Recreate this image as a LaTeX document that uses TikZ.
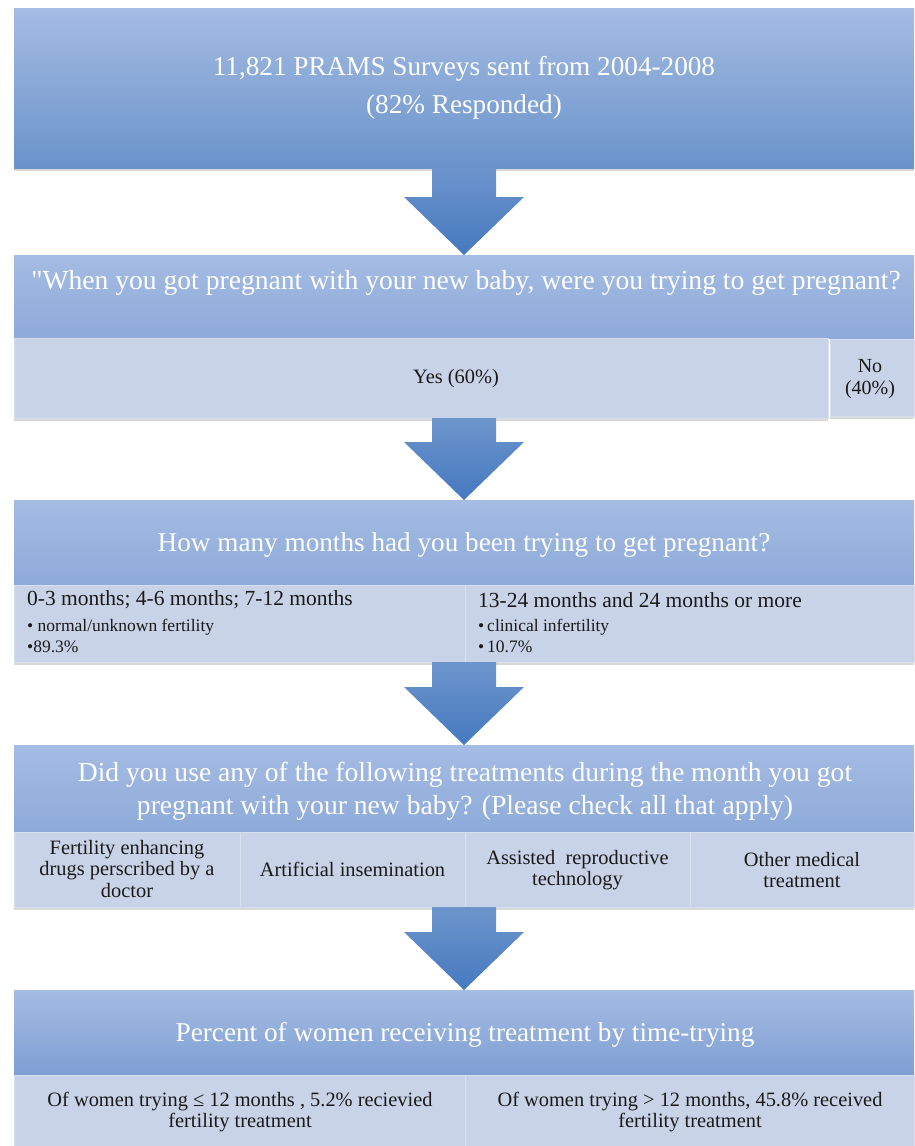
\documentclass[tikz,border=0pt]{standalone}
\usepackage{fontspec}
\setmainfont{Liberation Serif}
\usetikzlibrary{calc,shadows}
\definecolor{htop}{HTML}{A5BCE3}
\definecolor{hbot}{HTML}{8DAAD9}
\definecolor{bonebot}{HTML}{6A93CA}
\definecolor{bfivebot}{HTML}{7E9FD3}
\definecolor{cellfill}{HTML}{C8D3E8}
\definecolor{celledge}{HTML}{D8E0F0}
\definecolor{arrtop}{HTML}{6D95CC}
\definecolor{arrbot}{HTML}{4579BF}
\definecolor{txtdark}{HTML}{1A1A1A}
\newcommand\blockarrow[2]{%
  \shade[top color=arrtop,bottom color=arrbot]
    ($(#2.north |- #1.south)+(-32,0)$) -- ($(#2.north |- #1.south)+(32,0)$) --
    ($(#2.north)+(32,-58)$) -- ($(#2.north)+(60,-58)$) -- (#2.north) --
    ($(#2.north)+(-60,-58)$) -- ($(#2.north)+(-32,-58)$) -- cycle;}
\newcommand\straightquote{{\addfontfeatures{Ligatures=TeXOff}"}}
\begin{document}
\begin{tikzpicture}[x=1pt,y=-1pt,
  hdrbox/.style={rectangle,inner sep=0pt,outer sep=0pt,minimum width=900pt,
    top color=htop,bottom color=hbot},
  cellbox/.style={rectangle,inner sep=0pt,outer sep=0pt,fill=cellfill,
    draw=celledge,line width=0.6pt,
    drop shadow={shadow xshift=0pt,shadow yshift=-2.5pt,opacity=0.3}},
  htext/.style={text=white,align=center,inner sep=0pt,font=\fontsize{27.2}{38}\selectfont},
  ctext/.style={text=txtdark,align=center,inner sep=0pt,font=\fontsize{20.4}{21.5}\selectfont},
  mtext/.style={text=txtdark,anchor=west,inner sep=0pt,font=\fontsize{21.5}{24}\selectfont},
  btext/.style={text=txtdark,anchor=west,inner sep=0pt,font=\fontsize{17.5}{19}\selectfont}]
\useasboundingbox (0,0) rectangle (914,1146);
\fill[white] (0,0) rectangle (914,1146);

% box 1
\node[hdrbox,bottom color=bonebot,minimum height=160pt,
  drop shadow={shadow xshift=0pt,shadow yshift=-2.5pt,opacity=0.3}] (b1) at (464,88) {};
\node[htext] (t1) at (b1.center) {11,821 PRAMS Surveys sent from 2004-2008\\(82\% Responded)};

% box 2
\node[hdrbox,minimum height=83pt] (b2) at (464,296.5) {};
\node[htext,font=\fontsize{27.6}{38}\selectfont] (t2) at (466,283) {\straightquote When you got pregnant with your new baby, were you trying to get pregnant?};
\node[cellbox,minimum width=814pt,minimum height=80pt] (yes) at (421,378) {};
\node[cellbox,minimum width=84pt,minimum height=77pt] (no) at (872,377.5) {};
\node[ctext] (tyes) at (456,379) {Yes (60\%)};
\node[ctext,font=\fontsize{20}{22}\selectfont] (tno) at (870,379) {No\\(40\%)};

% box 3
\node[hdrbox,minimum height=85pt] (b3) at (464,542.5) {};
\node[htext] (t3) at (464,545) {How many months had you been trying to get pregnant?};
\node[cellbox,minimum width=451pt,minimum height=77pt] (c31) at (239.5,623.5) {};
\node[cellbox,minimum width=449pt,minimum height=77pt] (c32) at (689.5,623.5) {};
\node[mtext] (m31) at (27,600) {0-3 months; 4-6 months; 7-12 months};
\node[btext] (m31a) at (27,627) {• normal/unknown fertility};
\node[btext] (m31b) at (27,647) {•89.3\%};
\node[mtext] (m32) at (478,600) {13-24 months and 24 months or more};
\node[btext] (m32a) at (478,627) {•\,clinical infertility};
\node[btext] (m32b) at (478,647) {•\,10.7\%};

% box 4
\node[hdrbox,minimum height=87pt] (b4) at (464,788.5) {};
\node[htext,font=\fontsize{27.6}{33}\selectfont] (t4) at (465,791) {Did you use any of the following treatments during the month you got\\pregnant with your new baby? (Please check all that apply)};
\node[cellbox,minimum width=226pt,minimum height=75pt] (c41) at (127,869.5) {};
\node[cellbox,minimum width=225pt,minimum height=75pt] (c42) at (352.5,869.5) {};
\node[cellbox,minimum width=225pt,minimum height=75pt] (c43) at (577.5,869.5) {};
\node[cellbox,minimum width=224pt,minimum height=75pt] (c44) at (802,869.5) {};
\node[ctext] (x41) at (127,869) {Fertility enhancing\\drugs perscribed by a\\doctor};
\node[ctext] (x42) at (352.5,869) {Artificial insemination};
\node[ctext] (x43) at (577.5,870) {Assisted\ \ reproductive\\technology};
\node[ctext] (x44) at (802,870) {Other medical\\treatment};

% box 5
\node[hdrbox,bottom color=bfivebot,minimum height=85pt] (b5) at (464,1032.5) {};
\node[htext] (t5) at (465,1035) {Percent of women receiving treatment by time-trying};
\node[cellbox,minimum width=451pt,minimum height=71pt] (c51) at (239.5,1110.5) {};
\node[cellbox,minimum width=449pt,minimum height=71pt] (c52) at (689.5,1110.5) {};
\node[ctext] (x51) at (240,1112) {Of women trying ≤ 12 months , 5.2\% recievied\\fertility treatment};
\node[ctext] (x52) at (690,1112) {Of women trying > 12 months, 45.8\% received\\fertility treatment};

% arrows
\blockarrow{b1}{b2}
\blockarrow{yes}{b3}
\blockarrow{c31}{b4}
\blockarrow{c41}{b5}
\end{tikzpicture}
\end{document}
